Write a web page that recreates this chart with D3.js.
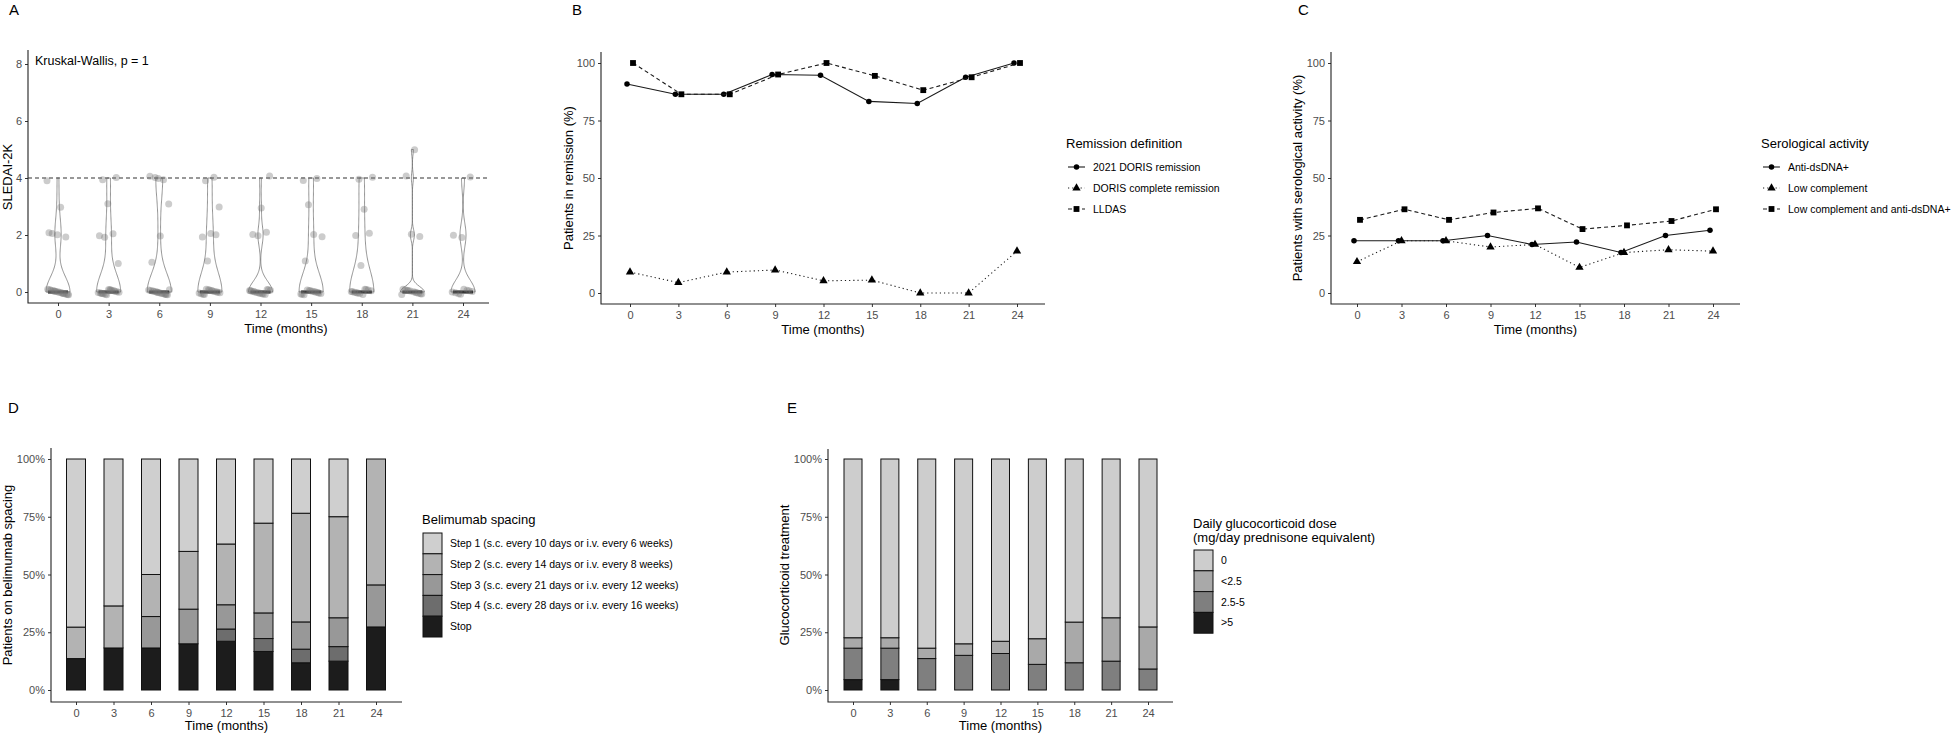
<!DOCTYPE html>
<html>
<head>
<meta charset="utf-8">
<script src="https://d3js.org/d3.v7.min.js"></script>
<style>
  body { margin: 0; background: #fff; }
</style>
</head>
<body>
<svg id="fig" width="1951" height="736"></svg>
<script>
const months = [0, 3, 6, 9, 12, 15, 18, 21, 24];

// A: SLEDAI-2K scores at each visit
const sledai = [
  [4, 3, 2, 2, 2, 2, 0, 0, 0, 0, 0, 0, 0, 0, 0, 0, 0, 0, 0, 0, 0, 0],
  [4, 4, 3, 2, 2, 2, 1, 0, 0, 0, 0, 0, 0, 0, 0, 0, 0, 0, 0, 0, 0, 0],
  [4, 4, 4, 4, 3, 2, 1, 0, 0, 0, 0, 0, 0, 0, 0, 0, 0, 0, 0, 0, 0, 0],
  [4, 4, 3, 2, 2, 2, 1, 0, 0, 0, 0, 0, 0, 0, 0, 0, 0, 0, 0, 0],
  [4, 3, 2, 2, 2, 0, 0, 0, 0, 0, 0, 0, 0, 0, 0, 0, 0, 0, 0],
  [4, 4, 3, 2, 2, 1, 0, 0, 0, 0, 0, 0, 0, 0, 0, 0, 0, 0],
  [4, 4, 3, 2, 2, 1, 0, 0, 0, 0, 0, 0, 0, 0, 0, 0, 0],
  [5, 4, 2, 2, 0, 0, 0, 0, 0, 0, 0, 0, 0, 0, 0, 0],
  [4, 2, 2, 0, 0, 0, 0, 0, 0, 0, 0]
];
const sledaiTicks = [0, 2, 4, 6, 8];

// B: remission (%)
const remissionNames = ["2021 DORIS remission", "DORIS complete remission", "LLDAS"];
const doris2021 = [90.9, 86.4, 86.4, 95, 94.7, 83.3, 82.4, 93.8, 100];
const dorisComplete = [9.1, 4.5, 9.1, 10, 5.3, 5.6, 0, 0, 18.2];
const lldas = [100, 86.4, 86.4, 95, 100, 94.4, 88.2, 93.8, 100];

// C: serological activity (%)
const seroNames = ["Anti-dsDNA+", "Low complement", "Low complement and anti-dsDNA+"];
const antiDsDNA = [22.7, 22.7, 22.7, 25, 21.1, 22.2, 17.6, 25, 27.3];
const lowComplement = [13.6, 22.7, 22.7, 20, 21.1, 11.1, 17.6, 18.8, 18.2];
const lowCompAndDs = [31.8, 36.4, 31.8, 35, 36.8, 27.8, 29.4, 31.3, 36.4];

const pctTicks = [0, 25, 50, 75, 100];

// D: belimumab spacing (% of patients)
const spacingNames = [
  "Step 1 (s.c. every 10 days or i.v. every 6 weeks)",
  "Step 2 (s.c. every 14 days or i.v. every 8 weeks)",
  "Step 3 (s.c. every 21 days or i.v. every 12 weeks)",
  "Step 4 (s.c. every 28 days or i.v. every 16 weeks)",
  "Stop"
];
const step1 = [72.7, 63.6, 50, 40, 36.8, 27.8, 23.5, 25, 0];
const step2 = [13.6, 18.2, 18.2, 25, 26.3, 38.9, 47.1, 43.8, 54.5];
const step3 = [0, 0, 13.6, 15, 10.5, 11.1, 11.8, 12.5, 18.2];
const step4 = [0, 0, 0, 0, 5.3, 5.6, 5.9, 6.3, 0];
const stop = [13.6, 18.2, 18.2, 20, 21.1, 16.7, 11.8, 12.5, 27.3];

// E: daily glucocorticoid dose (% of patients)
const doseNames = ["0", "<2.5", "2.5-5", ">5"];
const gc0 = [77.3, 77.3, 81.8, 80, 78.9, 77.8, 70.6, 68.8, 72.7];
const gcLow = [4.5, 4.5, 4.5, 5, 5.3, 11.1, 17.6, 18.8, 18.2];
const gcMid = [13.6, 13.6, 13.6, 15, 15.8, 11.1, 11.8, 12.5, 9.1];
const gcHigh = [4.5, 4.5, 0, 0, 0, 0, 0, 0, 0];

const fillTicks = [0, 0.25, 0.5, 0.75, 1];

const FONT = "Arial, 'Liberation Sans', sans-serif";
const svg = d3.select("#fig");
svg.append("rect").attr("width", 1951).attr("height", 736).attr("fill", "#fff");

function txt(x, y, s, size, anchor) {
  return svg.append("text")
    .attr("x", x).attr("y", y)
    .attr("font-family", FONT)
    .attr("font-size", size)
    .attr("text-anchor", anchor || "start")
    .attr("fill", "#000")
    .text(s);
}

function ytitle(x, y, s) {
  svg.append("text")
    .attr("transform", `translate(${x},${y}) rotate(-90)`)
    .attr("font-family", FONT)
    .attr("font-size", 13)
    .attr("text-anchor", "middle")
    .text(s);
}

function axes(p, xScale, yScale, yTicks, yFmt) {
  const left = d3.axisLeft(yScale).tickValues(yTicks).tickSize(3).tickPadding(3).tickFormat(yFmt);
  const gy = svg.append("g").attr("transform", `translate(${p.left},0)`).call(left);
  const bottom = d3.axisBottom(xScale).tickValues(months).tickSize(3).tickPadding(4);
  const gx = svg.append("g").attr("transform", `translate(0,${p.bottom})`).call(bottom);
  [gx, gy].forEach(g => {
    g.select(".domain").remove();
    g.attr("font-family", FONT).attr("font-size", 11);
    g.selectAll("line").attr("stroke", "#333");
    g.selectAll("text").attr("fill", "#4d4d4d");
  });
  svg.append("path")
    .attr("d", `M${p.left},${p.top}V${p.bottom}H${p.right}`)
    .attr("fill", "none").attr("stroke", "#222").attr("stroke-width", 1.1);
}

// ---------- A ----------
const pA = { left: 28, right: 489, top: 50, bottom: 303 };
const xA = d3.scalePoint().domain(months).range([58, 463]);
const yA = d3.scaleLinear().domain([0, 8]).range([292, 64]);

txt(9, 15, "A", 15);
axes(pA, xA, yA, sledaiTicks, d3.format("d"));
txt(35, 65, "Kruskal-Wallis, p = 1", 12.5);
ytitle(12, 177, "SLEDAI-2K");
txt(286, 333, "Time (months)", 13, "middle");

svg.append("line")
  .attr("x1", pA.left).attr("x2", pA.right)
  .attr("y1", yA(4)).attr("y2", yA(4))
  .attr("stroke", "#333").attr("stroke-width", 1.1).attr("stroke-dasharray", "4,3");

function bwNrd0(x) {
  const hi = d3.deviation(x);
  const iqr = d3.quantile(x, 0.75) - d3.quantile(x, 0.25);
  let lo = Math.min(hi, iqr / 1.34);
  if (!lo) lo = hi || Math.abs(x[0]) || 1;
  return 0.9 * lo * Math.pow(x.length, -0.2);
}

function density(x, bw, at) {
  return d3.mean(x, v => Math.exp(-0.5 * ((at - v) / bw) ** 2)) / (bw * Math.sqrt(2 * Math.PI));
}

sledai.forEach((vals, gi) => {
  const cx = xA(months[gi]);
  const bw = bwNrd0(vals);
  const lo = d3.min(vals), hi = d3.max(vals);
  const grid = d3.range(0, 101).map(k => lo + (hi - lo) * k / 100);
  const dens = grid.map(v => density(vals, bw, v));
  const dmax = d3.max(dens);
  const half = 12;
  const right = grid.map((v, k) => [cx + half * dens[k] / dmax, yA(v)]);
  const left = grid.map((v, k) => [cx - half * dens[k] / dmax, yA(v)]).reverse();
  svg.append("path")
    .attr("d", d3.line()(right.concat(left)) + "Z")
    .attr("fill", "none").attr("stroke", "#666").attr("stroke-width", 0.7);

  svg.append("line")
    .attr("x1", cx - 10).attr("x2", cx + 10)
    .attr("y1", yA(d3.median(vals))).attr("y2", yA(d3.median(vals)))
    .attr("stroke", "#000").attr("stroke-width", 3);

  vals.forEach((v, i) => {
    const jx = (((i + gi * 0.37) * 0.618034) % 1 - 0.5) * 22;
    const jy = (((i * 0.381966 + gi * 0.21) % 1) - 0.5) * 0.2;
    svg.append("circle")
      .attr("cx", cx + jx).attr("cy", yA(v + jy)).attr("r", 3.5)
      .attr("fill", "#7a7a7a").attr("fill-opacity", 0.38);
  });
});

// ---------- B and C: dodged line charts ----------
const shapes = [d3.symbolCircle, d3.symbolTriangle, d3.symbolSquare];
const shapeSize = [24, 30, 34];
const dashes = [null, "1.2,3", "4,3"];
const dodge = [-3, 0, 3];

function symbolAt(x, y, k) {
  svg.append("path")
    .attr("transform", `translate(${x},${y})`)
    .attr("d", d3.symbol().type(shapes[k]).size(shapeSize[k])())
    .attr("fill", "#000");
}

function linePanel(p, x0, x24, series, names, legendX, label, labelX, yTitle, yTitleX) {
  const x = d3.scaleLinear().domain([0, 24]).range([x0, x24]);
  const y = d3.scaleLinear().domain([0, 100]).range([293, 63]);
  txt(labelX, 15, label, 15);
  axes(p, x, y, pctTicks, d3.format("d"));
  ytitle(yTitleX, 178, yTitle);
  txt((p.left + p.right) / 2, 334, "Time (months)", 13, "middle");

  series.forEach((vals, k) => {
    const line = d3.line().x((d, i) => x(months[i]) + dodge[k]).y(d => y(d));
    svg.append("path")
      .attr("d", line(vals))
      .attr("fill", "none").attr("stroke", "#1a1a1a").attr("stroke-width", 1.1)
      .attr("stroke-dasharray", dashes[k]);
    vals.forEach((v, i) => symbolAt(x(months[i]) + dodge[k], y(v), k));
  });

  txt(legendX - 2, 148, names.title, 13);
  names.items.forEach((n, k) => {
    const ly = 167 + k * 21;
    svg.append("line")
      .attr("x1", legendX).attr("x2", legendX + 17).attr("y1", ly).attr("y2", ly)
      .attr("stroke", "#1a1a1a").attr("stroke-width", 1.1)
      .attr("stroke-dasharray", dashes[k]);
    symbolAt(legendX + 8.5, ly, k);
    txt(legendX + 25, ly + 3.8, n, 10.5);
  });
}

linePanel({ left: 601, right: 1045, top: 52, bottom: 304 }, 630, 1017,
  [doris2021, dorisComplete, lldas],
  { title: "Remission definition", items: remissionNames },
  1068, "B", 572, "Patients in remission (%)", 573);

linePanel({ left: 1331, right: 1740, top: 52, bottom: 304 }, 1357, 1713,
  [antiDsDNA, lowComplement, lowCompAndDs],
  { title: "Serological activity", items: seroNames },
  1763, "C", 1298, "Patients with serological activity (%)", 1302);

// ---------- D and E: stacked 100% bars ----------
function barPanel(p, x0, x24, barW, series, colors, names, label, labelX, yTitle, yTitleX, legend) {
  const x = d3.scalePoint().domain(months).range([x0, x24]);
  const y = d3.scaleLinear().domain([0, 1]).range([p.bottom - 12, p.bottom - 243]);
  txt(labelX, 413, label, 15);
  axes(p, x, y, fillTicks, d3.format(".0%"));
  ytitle(yTitleX, 575, yTitle);
  txt((p.left + p.right) / 2, 730, "Time (months)", 13, "middle");

  months.forEach((m, i) => {
    const total = d3.sum(series, s => s[i]);
    let acc = 0;
    // bottom of stack is the last series
    for (let k = series.length - 1; k >= 0; k--) {
      const v = series[k][i] / total;
      if (v > 0) {
        svg.append("rect")
          .attr("x", x(m) - barW / 2).attr("width", barW)
          .attr("y", y(acc + v)).attr("height", y(acc) - y(acc + v))
          .attr("fill", colors[k]).attr("stroke", "#111").attr("stroke-width", 1);
      }
      acc += v;
    }
  });

  legend.title.forEach((t, j) => txt(legend.x - 1, legend.titleY + j * 14, t, 13));
  names.forEach((n, k) => {
    const top = legend.keyTop + k * 20.8;
    svg.append("rect")
      .attr("x", legend.x).attr("y", top).attr("width", 19).attr("height", 20.8)
      .attr("fill", colors[k]).attr("stroke", "#111").attr("stroke-width", 1);
    txt(legend.x + 27, top + 14, n, 10.5);
  });
}

barPanel({ left: 51, right: 402, top: 448, bottom: 702 }, 76, 376, 19,
  [step1, step2, step3, step4, stop],
  ["#cfcfcf", "#b3b3b3", "#989898", "#6d6d6d", "#1c1c1c"],
  spacingNames, "D", 8, "Patients on belimumab spacing", 12,
  { x: 423, titleY: 524, keyTop: 533, title: ["Belimumab spacing"] });

barPanel({ left: 828, right: 1173, top: 449, bottom: 702 }, 853, 1148, 18,
  [gc0, gcLow, gcMid, gcHigh],
  ["#cdcdcd", "#a9a9a9", "#7f7f7f", "#1c1c1c"],
  doseNames, "E", 787, "Glucocorticoid treatment", 789,
  { x: 1194, titleY: 528, keyTop: 550, title: ["Daily glucocorticoid dose", "(mg/day prednisone equivalent)"] });
</script>
</body>
</html>
